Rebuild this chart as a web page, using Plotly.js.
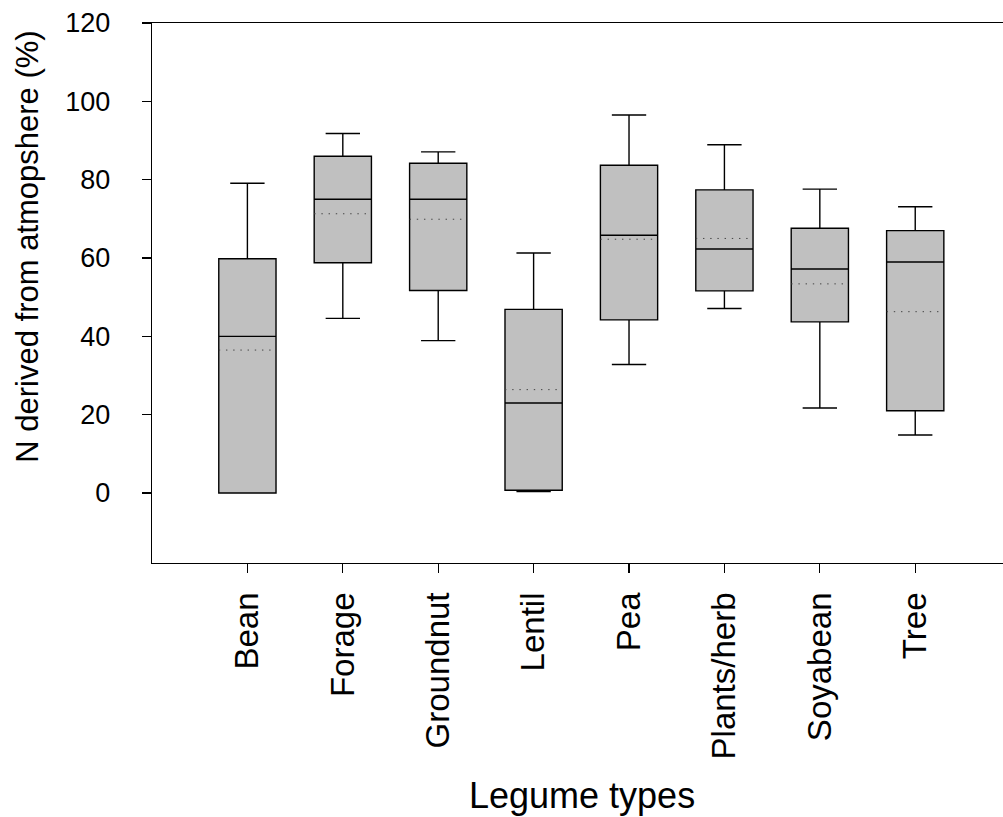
<!DOCTYPE html>
<html>
<head>
<meta charset="utf-8">
<script src="https://cdn.plot.ly/plotly-3.0.1.min.js"></script>
<style>
html,body{margin:0;padding:0;background:#fff;overflow:hidden;}
#chart{width:1003px;height:817px;}
.boxlayer path.mean{stroke-dasharray:1.4px 5.8px !important;stroke:#444 !important;stroke-width:1px !important;}
</style>
</head>
<body>
<div id="chart"></div>
<script>
var categories = ["Bean","Forage","Groundnut","Lentil","Pea","Plants/herb","Soyabean","Tree"];
var lowerWhisker = [0.0, 44.6, 38.9, 0.4, 32.8, 47.1, 21.7, 14.8];
var q1Values     = [0.0, 58.8, 51.7, 0.7, 44.2, 51.6, 43.7, 21.0];
var medianValues = [40.0, 75.0, 75.0, 23.0, 65.8, 62.3, 57.2, 59.0];
var meanValues   = [36.5, 71.3, 69.9, 26.4, 64.8, 65.0, 53.4, 46.3];
var q3Values     = [59.8, 86.0, 84.2, 46.9, 83.7, 77.4, 67.6, 67.0];
var upperWhisker = [79.1, 91.8, 87.1, 61.3, 96.5, 88.9, 77.6, 73.1];
var yTickValues  = [0, 20, 40, 60, 80, 100, 120];

var trace = {
  type: 'box',
  x: categories,
  q1: q1Values,
  median: medianValues,
  q3: q3Values,
  lowerfence: lowerWhisker,
  upperfence: upperWhisker,
  mean: meanValues,
  boxmean: true,
  boxpoints: false,
  width: 0.6,
  whiskerwidth: 0.6,
  fillcolor: '#c0c0c0',
  line: {color: '#000000', width: 1.4},
  hoverinfo: 'skip',
  showlegend: false
};

var layout = {
  width: 1003,
  height: 817,
  margin: {l: 152, r: 0, t: 23, b: 254, pad: 0},
  paper_bgcolor: '#ffffff',
  plot_bgcolor: '#ffffff',
  font: {family: 'Liberation Sans, Arial, sans-serif', color: '#000000'},
  xaxis: {
    type: 'category',
    range: [-1, 7.92],
    showgrid: false,
    zeroline: false,
    showline: true,
    linecolor: '#000000',
    linewidth: 1.3,
    mirror: true,
    ticks: 'outside',
    ticklen: 9,
    tickwidth: 1.3,
    tickcolor: '#000000',
    tickangle: -90,
    ticklabelstandoff: 6,
    tickfont: {size: 33, family: 'Liberation Sans, Arial, sans-serif'}
  },
  yaxis: {
    range: [-17.86, 120],
    tickvals: yTickValues,
    ticktext: yTickValues.map(String),
    showgrid: false,
    zeroline: false,
    showline: true,
    linecolor: '#000000',
    linewidth: 1.3,
    mirror: false,
    ticks: 'outside',
    ticklen: 9,
    tickwidth: 1.3,
    tickcolor: '#000000',
    ticklabelstandoff: 26,
    tickfont: {size: 27, family: 'Liberation Sans, Arial, sans-serif'}
  },
  annotations: [
    {
      text: 'N derived from atmopshere (%)',
      xref: 'paper', yref: 'paper',
      x: -0.1473, y: 0.585,
      xanchor: 'center', yanchor: 'middle',
      textangle: -90,
      showarrow: false,
      font: {size: 31, family: 'Liberation Sans, Arial, sans-serif', color: '#000000'}
    },
    {
      text: 'Legume types',
      xref: 'paper', yref: 'paper',
      x: 0.5052, y: -0.4304,
      xanchor: 'center', yanchor: 'middle',
      showarrow: false,
      font: {size: 36, family: 'Liberation Sans, Arial, sans-serif', color: '#000000'}
    }
  ]
};

Plotly.newPlot('chart', [trace], layout, {staticPlot: true, displayModeBar: false});
</script>
</body>
</html>
